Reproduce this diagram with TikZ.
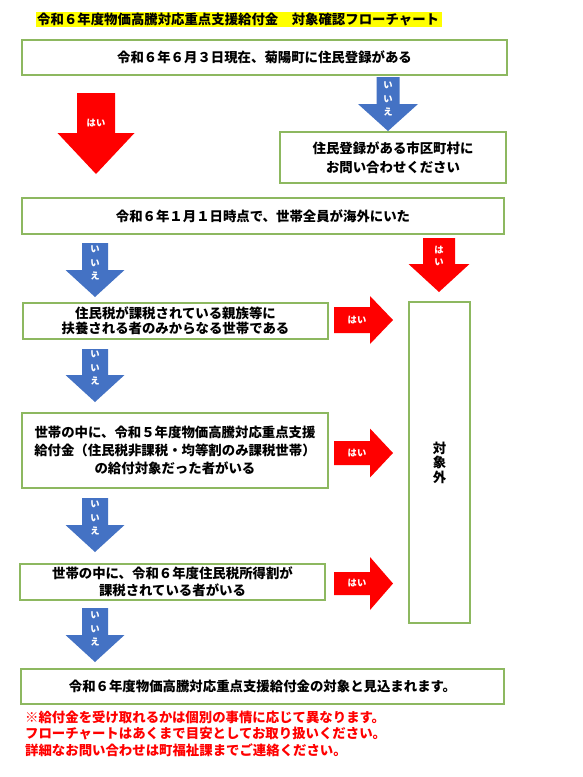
\documentclass[tikz,border=0pt]{standalone}
\usepackage{fontspec}
\setmainfont{Noto Sans CJK JP}
\newfontfamily\jp{Noto Sans CJK JP}
\definecolor{boxgreen}{HTML}{8DB860}
\definecolor{arrowblue}{HTML}{4472C4}
\definecolor{arrowred}{HTML}{FF0000}
\definecolor{hlyellow}{HTML}{FFFF00}
\tikzset{
  qbox/.style={draw=boxgreen, line width=1.1pt, fill=white, inner sep=0pt, align=center,
    font=\jp\bfseries\fontsize{13.4}{18}\selectfont},
  lbl/.style={text=white, font=\jp\bfseries\fontsize{9.3}{13.5}\selectfont, inner sep=0pt, align=center},
  note/.style={text=arrowred, font=\jp\bfseries\fontsize{13.4}{16.6}\selectfont, inner sep=0pt, align=left},
}
% colour, cx, shaft top, shaft half width, head top, head half width, tip
\newcommand\blockdown[7]{%
  \fill[#1] (#2-#4,#3) -- (#2+#4,#3) -- (#2+#4,#5) -- (#2+#6,#5) -- (#2,#7)
    -- (#2-#6,#5) -- (#2-#4,#5) -- cycle;}
% colour, left x, mid y, shaft half height, head x, head half height, tip x
\newcommand\blockright[7]{%
  \fill[#1] (#2,#3-#4) -- (#5,#3-#4) -- (#5,#3-#6) -- (#7,#3) -- (#5,#3+#6)
    -- (#5,#3+#4) -- (#2,#3+#4) -- cycle;}
\begin{document}
\begin{tikzpicture}[x=1pt,y=-1pt]
\useasboundingbox (0,0) rectangle (582,777);
\fill[white] (0,0) rectangle (582,777);

% title
\fill[hlyellow] (36,12) rectangle (442,26.5);
\node[anchor=west, inner sep=0pt, font=\jp\bfseries\fontsize{13.4}{16}\selectfont] (title) at (37,19.5)
  {令和６年度物価高騰対応重点支援給付金　対象確認フローチャート};

% boxes
\node[qbox, minimum width=485pt, minimum height=35pt] (b1) at (264.5,57.5)
  {令和６年６月３日現在、菊陽町に住民登録がある};
\node[qbox, minimum width=226pt, minimum height=51pt, font=\jp\bfseries\fontsize{13.4}{19}\selectfont] (ask) at (393,157.5)
  {住民登録がある市区町村に\\お問い合わせください};
\node[qbox, minimum width=482pt, minimum height=36pt] (b2) at (263,216)
  {令和６年１月１日時点で、世帯全員が海外にいた};
\node[qbox, minimum width=305pt, minimum height=36pt, font=\jp\bfseries\fontsize{13.4}{15.5}\selectfont] (b3) at (175.5,321)
  {住民税が課税されている親族等に\\扶養される者のみからなる世帯である};
\node[qbox, minimum width=306pt, minimum height=75pt] (b4) at (175,450.5)
  {世帯の中に、令和５年度物価高騰対応重点支援\\給付金（住民税非課税・均等割のみ課税世帯）\\の給付対象だった者がいる};
\node[qbox, minimum width=305pt, minimum height=36pt, font=\jp\bfseries\fontsize{13.4}{17}\selectfont] (b5) at (172.5,582)
  {世帯の中に、令和６年度住民税所得割が\\課税されている者がいる};
\node[qbox, minimum width=483pt, minimum height=35pt] (b6) at (262.5,686.5)
  {令和６年度物価高騰対応重点支援給付金の対象と見込まれます。};
\node[qbox, minimum width=61pt, minimum height=321pt, font=\jp\bfseries\fontsize{13.4}{14.5}\selectfont] (out) at (439.5,462.5)
  {対\\象\\外};

% block arrows
\blockdown{arrowred}{96}{93}{19}{133}{38.5}{174}
\blockdown{arrowblue}{388}{77}{11.5}{104}{30}{131}
\blockdown{arrowblue}{95}{243}{13}{270}{29.5}{297}
\blockdown{arrowred}{439}{238}{16}{264}{30.5}{292}
\blockdown{arrowblue}{95}{349}{13}{375}{29.5}{402}
\blockdown{arrowblue}{95}{498}{13}{525}{29.5}{552}
\blockdown{arrowblue}{95}{608}{13}{635}{29.5}{662}
\blockright{arrowred}{334}{320}{13}{370}{24}{393}
\blockright{arrowred}{334}{453}{12}{370}{24.5}{393}
\blockright{arrowred}{334}{583.5}{11.5}{370}{26.5}{393}

% arrow labels
\node[lbl] (y0) at (96,123) {はい};
\node[lbl] (n1) at (388,99) {い\\い\\え};
\node[lbl] (n2) at (95,263) {い\\い\\え};
\node[lbl, font=\jp\bfseries\fontsize{9.3}{12}\selectfont] (y1) at (439,256) {は\\い};
\node[lbl] (n3) at (95,368) {い\\い\\え};
\node[lbl] (n4) at (95,518) {い\\い\\え};
\node[lbl] (n5) at (95,629) {い\\い\\え};
\node[lbl] (y2) at (357,320) {はい};
\node[lbl] (y3) at (357,453) {はい};
\node[lbl] (y4) at (357,583.5) {はい};

% notes
\node[note, anchor=west] (notes) at (25,733.5)
  {※給付金を受け取れるかは個別の事情に応じて異なります。\\フローチャートはあくまで目安としてお取り扱いください。\\詳細なお問い合わせは町福祉課までご連絡ください。};
\end{tikzpicture}
\end{document}
